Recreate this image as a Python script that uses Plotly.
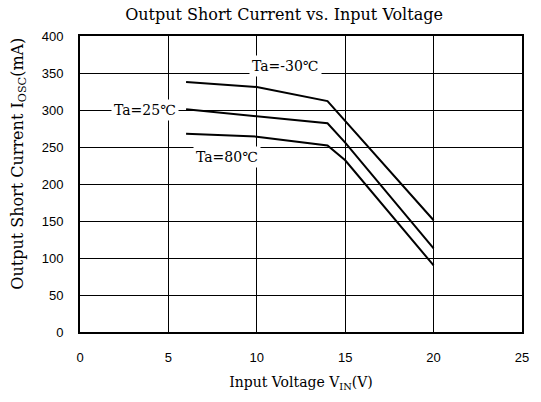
import plotly.graph_objects as go

# ── Data ──────────────────────────────────────────────────────────────────
VIN = [6, 10, 14, 15, 20]
IOSC_M30 = [338, 331, 312, 285, 151]   # Ta=-30°C
IOSC_25 = [301, 292, 282, 256, 113]    # Ta=25°C
IOSC_80 = [268, 264, 252, 232, 90]     # Ta=80°C

SERIES = [("Ta=-30℃", IOSC_M30), ("Ta=25℃", IOSC_25), ("Ta=80℃", IOSC_80)]

# label anchor points (data coords)
LABELS = [("Ta=-30℃", 11.6, 359), ("Ta=25℃", 3.7, 300), ("Ta=80℃", 8.3, 237)]

SERIF = "DejaVu Serif, Liberation Serif, serif"
SANS = "Liberation Sans, Arial, sans-serif"

W, H = 541, 402
MARGIN = dict(l=80, r=14, t=36, b=70)
plot_w = W - MARGIN["l"] - MARGIN["r"]
plot_h = H - MARGIN["t"] - MARGIN["b"]

fig = go.Figure()
for name, ys in SERIES:
    fig.add_trace(go.Scatter(
        x=VIN, y=ys, mode="lines", name=name,
        line=dict(color="black", width=2),
        showlegend=False,
    ))

for text, x, y in LABELS:
    fig.add_annotation(
        x=x, y=y, text=text, showarrow=False,
        font=dict(family=SERIF, size=14, color="black"),
        bgcolor="white", borderpad=2,
    )

# y axis title as a rotated annotation (pixel position -> paper coords)
fig.add_annotation(
    xref="paper", yref="paper",
    x=(17 - MARGIN["l"]) / plot_w, y=(H - MARGIN["b"] - 164) / plot_h,
    xanchor="center", yanchor="middle", showarrow=False,
    text="Output Short Current I<sub>OSC</sub>(mA)", textangle=-90,
    font=dict(family=SERIF, size=16, color="black"),
)

axis_common = dict(
    showline=True, mirror=True, linecolor="black", linewidth=2,
    showgrid=True, gridcolor="black", gridwidth=1,
    zeroline=False, ticks="",
    tickfont=dict(family=SANS, size=13, color="black"),
)

fig.update_layout(
    width=W, height=H,
    paper_bgcolor="white", plot_bgcolor="white",
    margin=MARGIN,
    title=dict(
        text="Output Short Current vs. Input Voltage",
        x=0.525, xanchor="center", y=0.963, yanchor="middle",
        font=dict(family=SERIF, size=16, color="black"),
    ),
    xaxis=dict(
        range=[0, 25], dtick=5, ticklabelstandoff=12,
        title=dict(text="Input Voltage V<sub>IN</sub>(V)", standoff=14,
                   font=dict(family=SERIF, size=14, color="black")),
        **axis_common,
    ),
    yaxis=dict(
        range=[0, 400], dtick=50, ticklabelstandoff=12,
        **axis_common,
    ),
)

fig.write_html(
    "out.html",
    config={"displayModeBar": False},
    post_script="document.body.style.margin='0';",
)
